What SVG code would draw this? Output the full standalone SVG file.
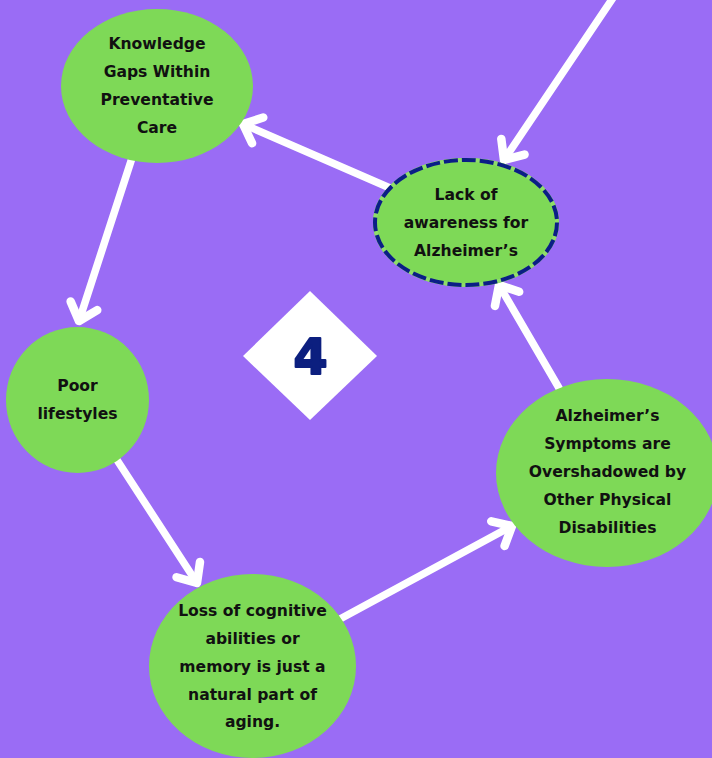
<svg xmlns="http://www.w3.org/2000/svg" width="712" height="758" viewBox="0 0 712 758">
  <style>
    .node { fill: #7ed957; }
    .label { font-family: "DejaVu Sans", "Liberation Sans", sans-serif; font-weight: bold; font-size: 15.6px; fill: #111111; text-anchor: middle; }
    .conn { stroke: #ffffff; stroke-width: 7.5; stroke-linecap: round; fill: none; }
    .dash-under { fill: none; stroke: #8fdd69; stroke-width: 4; }
    .dash { fill: none; stroke: #0b1e86; stroke-width: 4; stroke-dasharray: 14 4; }
  </style>
  <defs>
    <marker id="chevron" markerUnits="userSpaceOnUse" markerWidth="44" markerHeight="44" viewBox="-30 -22 44 44" refX="0" refY="0" orient="auto" overflow="visible">
      <path d="M-16,-14 L0,0 L-16,14" fill="none" stroke="#ffffff" stroke-width="8.5" stroke-linecap="round" stroke-linejoin="round"/>
    </marker>
  </defs>

  <rect width="712" height="758" fill="#9a6cf5"/>

  <!-- connectors -->
  <g id="connectors">
    <line class="conn" x1="625" y1="-20" x2="504" y2="160" marker-end="url(#chevron)"/>
    <line class="conn" x1="390" y1="188" x2="243" y2="124" marker-end="url(#chevron)"/>
    <line class="conn" x1="132" y1="158" x2="79" y2="321" marker-end="url(#chevron)"/>
    <line class="conn" x1="117" y1="460" x2="197" y2="583" marker-end="url(#chevron)"/>
    <line class="conn" x1="340" y1="619" x2="512" y2="526" marker-end="url(#chevron)"/>
    <line class="conn" x1="559" y1="388" x2="499" y2="285" marker-end="url(#chevron)"/>
  </g>

  <!-- centre badge -->
  <g id="badge">
    <polygon points="310,291 377,356 310,420 243,356" fill="#ffffff"/>
    <text x="310.5" y="374" font-family="DejaVu Sans, Liberation Sans, sans-serif" font-weight="bold" font-size="49" fill="#0c1f7f" stroke="#0c1f7f" stroke-width="2.2" stroke-linejoin="round" text-anchor="middle">4</text>
  </g>

  <g id="knowledge-gaps">
    <ellipse class="node" cx="157" cy="86" rx="96" ry="77"/>
    <text class="label" x="157" y="49">Knowledge</text>
    <text class="label" x="157" y="77">Gaps Within</text>
    <text class="label" x="157" y="105">Preventative</text>
    <text class="label" x="157" y="133">Care</text>
  </g>

  <g id="lack-of-awareness">
    <ellipse class="node" cx="466" cy="222.5" rx="93" ry="64.5"/>
    <ellipse class="dash-under" cx="466" cy="222.5" rx="91" ry="62.5"/>
    <ellipse class="dash" cx="466" cy="222.5" rx="91" ry="62.5"/>
    <text class="label" x="466" y="200">Lack of</text>
    <text class="label" x="466" y="228">awareness for</text>
    <text class="label" x="466" y="256">Alzheimer’s</text>
  </g>

  <g id="poor-lifestyles">
    <ellipse class="node" cx="77.5" cy="400" rx="71.5" ry="73"/>
    <text class="label" x="77.5" y="391">Poor</text>
    <text class="label" x="77.5" y="419">lifestyles</text>
  </g>

  <g id="loss-of-cognitive">
    <ellipse class="node" cx="252.5" cy="666" rx="103.5" ry="92"/>
    <text class="label" x="252.5" y="616">Loss of cognitive</text>
    <text class="label" x="252.5" y="644">abilities or</text>
    <text class="label" x="252.5" y="672">memory is just a</text>
    <text class="label" x="252.5" y="699.5">natural part of</text>
    <text class="label" x="252.5" y="727">aging.</text>
  </g>

  <g id="symptoms-overshadowed">
    <ellipse class="node" cx="607" cy="473" rx="111" ry="94"/>
    <text class="label" x="607.5" y="421">Alzheimer’s</text>
    <text class="label" x="607.5" y="449">Symptoms are</text>
    <text class="label" x="607.5" y="477">Overshadowed by</text>
    <text class="label" x="607.5" y="505">Other Physical</text>
    <text class="label" x="607.5" y="532.5">Disabilities</text>
  </g>
</svg>
